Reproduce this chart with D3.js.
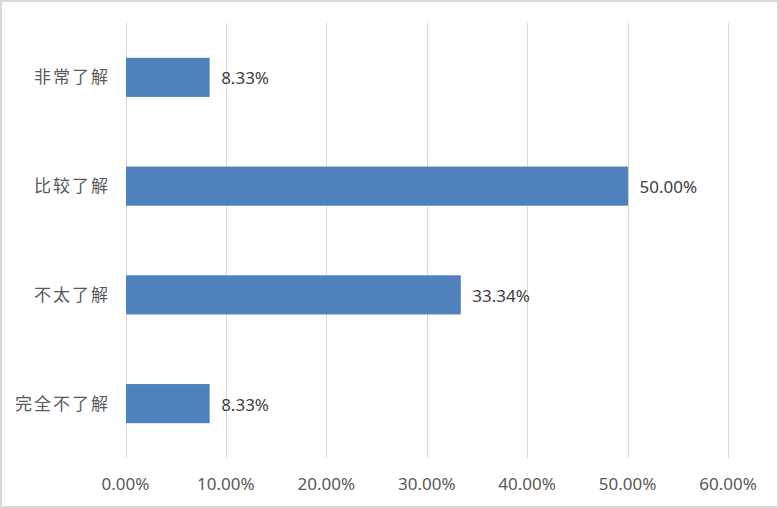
<!DOCTYPE html>
<html><head><meta charset="utf-8">
<script src="https://cdn.jsdelivr.net/npm/d3@7"></script>
<style>
html,body{margin:0;padding:0;background:#fff;}
svg{display:block;}
</style></head>
<body>
<svg id="chart" width="779" height="508"></svg>
<script>
const categories = ["非常了解", "比较了解", "不太了解", "完全不了解"];
const values = [8.33, 50.00, 33.34, 8.33];
const valueLabels = ["8.33%", "50.00%", "33.34%", "8.33%"];
const tickValues = [0, 10, 20, 30, 40, 50, 60];
const tickLabels = ["0.00%", "10.00%", "20.00%", "30.00%", "40.00%", "50.00%", "60.00%"];

const svg = d3.select("#chart");
const W = 779, H = 508;
const m = {left: 125.5, right: 51, top: 23, bottom: 50};

svg.append("rect").attr("x", 1).attr("y", 1).attr("width", W - 2).attr("height", H - 2)
  .attr("fill", "#fff").attr("stroke", "#d9d9d9").attr("stroke-width", 2);

const x = d3.scaleLinear().domain([0, 60]).range([m.left, W - m.right]);
const y = d3.scaleBand().domain(categories).range([m.top, H - m.bottom]).paddingInner(0.64).paddingOuter(0.32);

const cjkFont = "'Noto Sans CJK SC', sans-serif";
const numFont = "'Noto Sans', 'DejaVu Sans', sans-serif";

// gridlines
svg.append("g").selectAll("line").data(tickValues).join("line")
  .attr("x1", d => Math.round(x(d)) + 0.5).attr("x2", d => Math.round(x(d)) + 0.5)
  .attr("y1", m.top).attr("y2", H - m.bottom)
  .attr("stroke", "#d9d9d9").attr("stroke-width", 1);

// bars
svg.append("g").selectAll("rect").data(categories).join("rect")
  .attr("x", x(0) + 0.5)
  .attr("y", d => y(d))
  .attr("width", (d, i) => x(values[i]) - x(0))
  .attr("height", y.bandwidth())
  .attr("fill", "#4f81bd");

// data labels
svg.append("g").selectAll("text").data(categories).join("text")
  .attr("x", (d, i) => x(values[i]) + 12)
  .attr("y", d => y(d) + y.bandwidth() / 2 + 1)
  .attr("dy", "0.35em")
  .attr("font-family", numFont).attr("font-size", 17).attr("fill", "#404040")
  .text((d, i) => valueLabels[i]);

// category labels
svg.append("g").selectAll("text").data(categories).join("text")
  .attr("x", 110)
  .attr("y", d => y(d) + y.bandwidth() / 2)
  .attr("dy", "0.35em")
  .attr("text-anchor", "end")
  .attr("font-family", cjkFont).attr("font-size", 17).attr("letter-spacing", 2)
  .attr("fill", "#595959")
  .text(d => d);

// x tick labels
svg.append("g").selectAll("text").data(tickValues).join("text")
  .attr("x", d => x(d))
  .attr("y", 490)
  .attr("text-anchor", "middle")
  .attr("font-family", numFont).attr("font-size", 17).attr("fill", "#595959")
  .text((d, i) => tickLabels[i]);
</script>
</body></html>
